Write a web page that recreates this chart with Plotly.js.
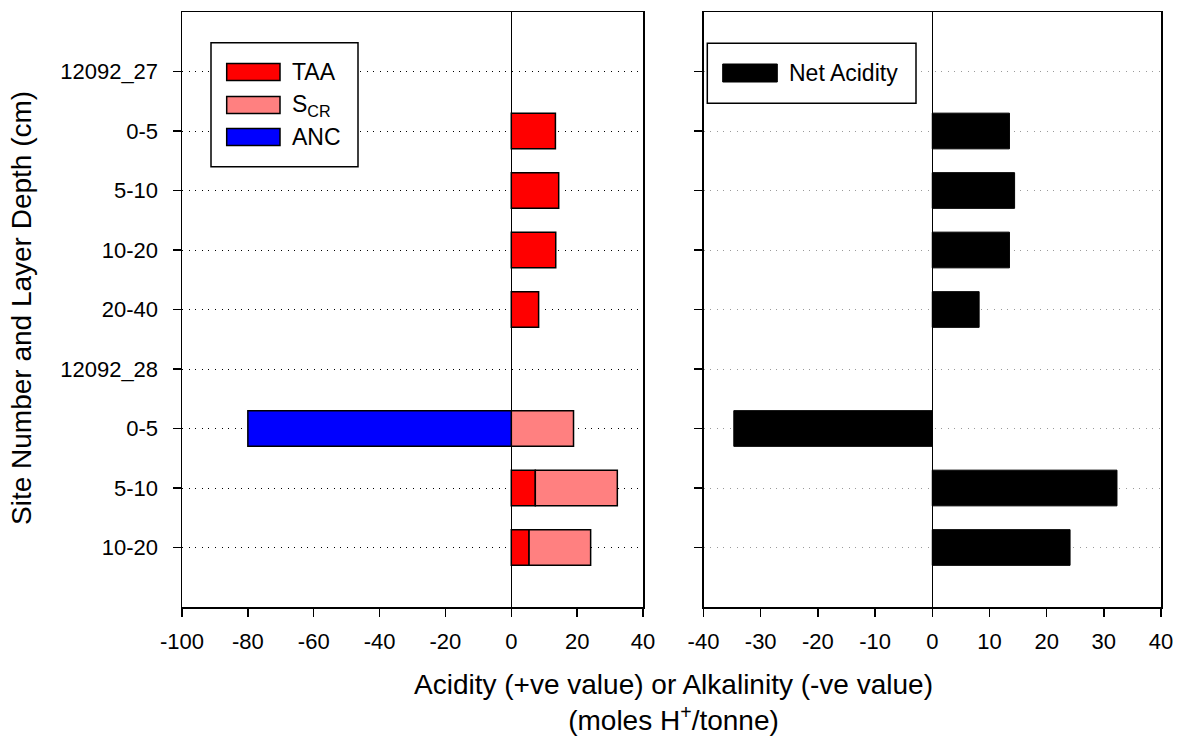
<!DOCTYPE html>
<html><head><meta charset="utf-8">
<script src="https://cdn.plot.ly/plotly-3.0.1.min.js"></script>
<style>html,body{margin:0;padding:0;background:#fff}</style>
</head><body><div id="chart" style="width:1183px;height:736px"></div>
<script>
// ---- data ----
const categories = ['12092_27','0-5','5-10','10-20','20-40','12092_28','0-5','5-10','10-20'];
const taa = [null, 13.4, 14.4, 13.5, 8.3, null, null, 7.3, 5.4];
const scr = [null, null, null, null, null, null, 18.9, 24.9, 18.7];
const anc = [null, null, null, null, null, null, -80, null, null];
const netAcidity = [null, 13.5, 14.4, 13.5, 8.2, null, -34.7, 32.3, 24.1];
const leftTicks = [-100, -80, -60, -40, -20, 0, 20, 40];
const rightTicks = [-40, -30, -20, -10, 0, 10, 20, 30, 40];
const seriesNames = ['TAA', 'S<sub>CR</sub>', 'ANC', 'Net Acidity'];

// ---- styling ----
const W = 1183, H = 736;
const FONT = '"Liberation Sans", Arial, sans-serif';
const colTAA = '#FF0000', colSCR = '#FF8080', colANC = '#0000FF', colNet = '#000000';
const px = v => v / W;
const py = v => 1 - v / H;
const pos = categories.map((c, i) => i);

const barLine = {color: '#000', width: 1.5};
const traces = [
  {type: 'bar', orientation: 'h', name: seriesNames[0], x: taa, y: pos, width: 0.6,
   marker: {color: colTAA, line: barLine}, xaxis: 'x', yaxis: 'y', showlegend: false, hoverinfo: 'x'},
  {type: 'bar', orientation: 'h', name: seriesNames[1], x: scr, y: pos, width: 0.6,
   marker: {color: colSCR, line: barLine}, xaxis: 'x', yaxis: 'y', showlegend: false, hoverinfo: 'x'},
  {type: 'bar', orientation: 'h', name: seriesNames[2], x: anc, y: pos, width: 0.6,
   marker: {color: colANC, line: barLine}, xaxis: 'x', yaxis: 'y', showlegend: false, hoverinfo: 'x'},
  {type: 'bar', orientation: 'h', name: seriesNames[3], x: netAcidity, y: pos, width: 0.6,
   marker: {color: colNet, line: {color: '#000', width: 1}}, xaxis: 'x2', yaxis: 'y2', showlegend: false, hoverinfo: 'x'}
];

const yDomain = [(H - 607) / H, (H - 12) / H];
const tickFont = {family: FONT, size: 22, color: '#000'};
const xCommon = {
  ticks: 'outside', ticklen: 8, tickwidth: 1.5, tickcolor: '#000',
  showline: true, mirror: true, linecolor: '#000', linewidth: 1.5,
  zeroline: true, zerolinecolor: '#000', zerolinewidth: 1.5,
  showgrid: false, tickfont: tickFont, ticklabelstandoff: 6, fixedrange: true
};
const yCommon = {
  range: [9, -1], tickmode: 'array', tickvals: pos,
  ticks: 'outside', ticklen: 8, tickwidth: 1.5, tickcolor: '#000',
  showline: true, mirror: true, linecolor: '#000', linewidth: 1.5,
  zeroline: false, showgrid: true, gridwidth: 1, griddash: '1px,5.6px',
  tickfont: tickFont, fixedrange: true, domain: yDomain
};

const shapes = [
  // left legend box and swatches
  {type: 'rect', xref: 'paper', yref: 'paper', x0: px(211), x1: px(358), y0: py(42.7), y1: py(166.7),
   line: {color: '#000', width: 1.5}, fillcolor: '#fff', layer: 'above'},
  {type: 'rect', xref: 'paper', yref: 'paper', x0: px(226.7), x1: px(280), y0: py(63.5), y1: py(80.5),
   line: {color: '#000', width: 1.5}, fillcolor: colTAA, layer: 'above'},
  {type: 'rect', xref: 'paper', yref: 'paper', x0: px(226.7), x1: px(280), y0: py(96.5), y1: py(113.5),
   line: {color: '#000', width: 1.5}, fillcolor: colSCR, layer: 'above'},
  {type: 'rect', xref: 'paper', yref: 'paper', x0: px(226.7), x1: px(280), y0: py(128.5), y1: py(145.5),
   line: {color: '#000', width: 1.5}, fillcolor: colANC, layer: 'above'},
  // right legend box and swatch
  {type: 'rect', xref: 'paper', yref: 'paper', x0: px(707.3), x1: px(916), y0: py(43.3), y1: py(103.3),
   line: {color: '#000', width: 1.5}, fillcolor: '#fff', layer: 'above'},
  {type: 'rect', xref: 'paper', yref: 'paper', x0: px(722.7), x1: px(777.3), y0: py(64), y1: py(82),
   line: {color: '#000', width: 1}, fillcolor: colNet, layer: 'above'}
];

const legFont = {family: FONT, size: 23, color: '#000'};
const ann = (text, x, y, extra) => Object.assign({text, x: px(x), y: py(y), xref: 'paper', yref: 'paper',
  showarrow: false, xanchor: 'left', yanchor: 'middle', font: legFont}, extra || {});
const annotations = [
  ann(seriesNames[0], 290, 72),
  ann(seriesNames[1], 290, 105),
  ann(seriesNames[2], 290, 137),
  ann(seriesNames[3], 787, 73),
  {text: 'Acidity (+ve value) or Alkalinity (-ve value)<br>(moles H<sup>+</sup>/tonne)',
   x: px(673), y: py(702), xref: 'paper', yref: 'paper', showarrow: false,
   xanchor: 'center', yanchor: 'middle', font: {family: FONT, size: 28, color: '#000'}},
  {text: 'Site Number and Layer Depth (cm)', textangle: -90,
   x: px(21), y: py(308), xref: 'paper', yref: 'paper', showarrow: false,
   xanchor: 'center', yanchor: 'middle', font: {family: FONT, size: 28, color: '#000'}}
];

const layout = {
  width: W, height: H, margin: {l: 0, r: 0, t: 0, b: 0},
  paper_bgcolor: '#fff', plot_bgcolor: '#fff',
  barmode: 'relative', showlegend: false,
  font: {family: FONT, color: '#000'},
  xaxis: Object.assign({}, xCommon, {domain: [px(182), px(643)], range: [-100, 40], tickmode: 'array',
    tickvals: leftTicks, ticktext: leftTicks.map(String), anchor: 'y'}),
  yaxis: Object.assign({}, yCommon, {anchor: 'x', ticktext: categories, gridcolor: '#000', ticklabelstandoff: 10}),
  xaxis2: Object.assign({}, xCommon, {domain: [px(703.5), px(1161)], range: [-40, 40], tickmode: 'array',
    tickvals: rightTicks, ticktext: rightTicks.map(String), anchor: 'y2'}),
  yaxis2: Object.assign({}, yCommon, {anchor: 'x2', showticklabels: false, gridcolor: '#9a9a9a'}),
  shapes, annotations
};

Plotly.newPlot('chart', traces, layout, {displayModeBar: false, staticPlot: true});
</script>
</body></html>
